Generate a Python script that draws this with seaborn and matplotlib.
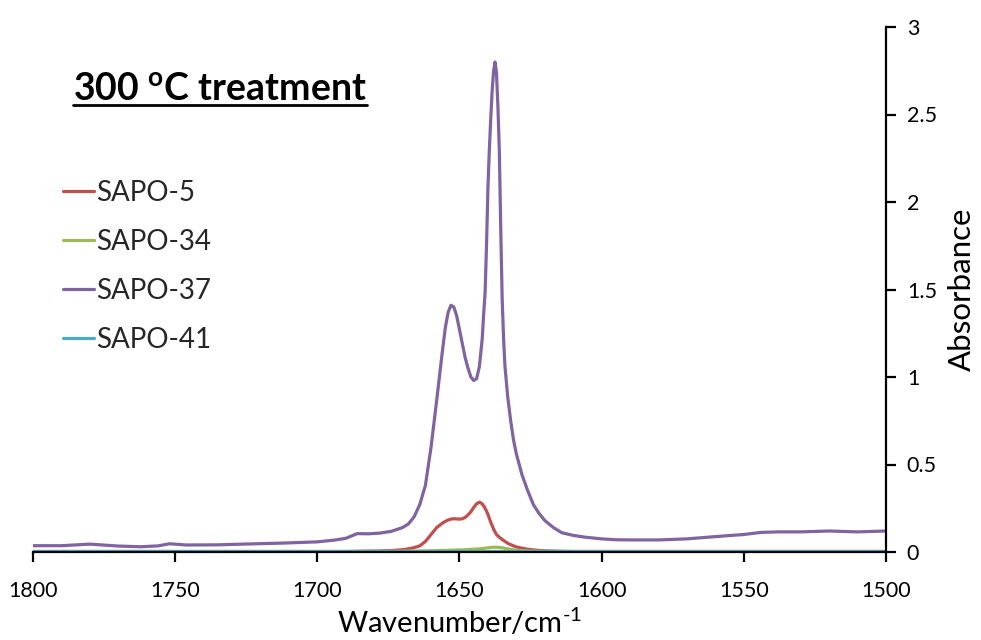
import numpy as np
import pandas as pd
import matplotlib
matplotlib.use("Agg")
import matplotlib.pyplot as plt
from matplotlib.lines import Line2D
import seaborn as sns

# ---------------- data ----------------
wavenumber = [
    1800, 1790, 1780, 1770, 1762, 1756, 1752, 1746, 1735, 1724,
    1712, 1700, 1694, 1690, 1686, 1682, 1678, 1674, 1670, 1668,
    1666, 1664, 1662, 1660, 1658, 1656, 1655, 1654, 1653, 1652,
    1651, 1650, 1649, 1648, 1647, 1646, 1645, 1644, 1643, 1642,
    1641.5, 1641, 1640.5, 1640, 1639.5, 1639, 1638.5, 1638, 1637.5, 1637,
    1636.5, 1636, 1635.5, 1635, 1634.5, 1634, 1633, 1632, 1631, 1630,
    1628, 1626, 1624, 1622, 1620, 1617, 1614, 1610, 1606, 1600,
    1595, 1590, 1580, 1570, 1560, 1550, 1544, 1538, 1530, 1520,
    1510, 1500,
]

sapo5 = [
    0.003, 0.003, 0.003, 0.003, 0.003, 0.003, 0.003, 0.003, 0.003, 0.003,
    0.003, 0.003, 0.003, 0.003, 0.004, 0.005, 0.006, 0.008, 0.013, 0.018,
    0.025, 0.035, 0.060, 0.100, 0.140, 0.165, 0.175, 0.183, 0.188, 0.190,
    0.189, 0.188, 0.190, 0.198, 0.212, 0.230, 0.255, 0.275, 0.285, 0.275,
    0.263, 0.250, 0.233, 0.215, 0.192, 0.170, 0.150, 0.130, 0.115, 0.100,
    0.092, 0.085, 0.078, 0.072, 0.066, 0.060, 0.050, 0.042, 0.035, 0.029,
    0.022, 0.016, 0.012, 0.009, 0.007, 0.005, 0.004, 0.003, 0.003, 0.003,
    0.003, 0.003, 0.003, 0.003, 0.003, 0.003, 0.003, 0.003, 0.003, 0.003,
    0.003, 0.003,
]

sapo34 = [
    0.002, 0.002, 0.002, 0.002, 0.002, 0.002, 0.002, 0.002, 0.002, 0.002,
    0.002, 0.002, 0.002, 0.002, 0.003, 0.003, 0.003, 0.004, 0.004, 0.005,
    0.005, 0.006, 0.006, 0.007, 0.008, 0.009, 0.009, 0.010, 0.010, 0.011,
    0.011, 0.012, 0.012, 0.013, 0.014, 0.015, 0.016, 0.017, 0.018, 0.020,
    0.021, 0.022, 0.023, 0.024, 0.025, 0.026, 0.027, 0.027, 0.027, 0.027,
    0.027, 0.026, 0.025, 0.024, 0.023, 0.021, 0.018, 0.015, 0.012, 0.010,
    0.008, 0.006, 0.005, 0.004, 0.004, 0.003, 0.003, 0.002, 0.002, 0.002,
    0.002, 0.002, 0.002, 0.002, 0.002, 0.002, 0.002, 0.002, 0.002, 0.002,
    0.002, 0.002,
]

sapo37 = [
    0.036, 0.036, 0.045, 0.034, 0.030, 0.035, 0.047, 0.040, 0.041, 0.046,
    0.051, 0.058, 0.068, 0.078, 0.105, 0.104, 0.108, 0.118, 0.140, 0.160,
    0.200, 0.270, 0.380, 0.600, 0.870, 1.150, 1.280, 1.370, 1.410, 1.400,
    1.350, 1.270, 1.190, 1.110, 1.050, 1.000, 0.980, 0.990, 1.060, 1.220,
    1.360, 1.480, 1.750, 2.080, 2.300, 2.480, 2.640, 2.750, 2.800, 2.740,
    2.550, 2.300, 1.850, 1.450, 1.220, 1.060, 0.880, 0.750, 0.640, 0.560,
    0.440, 0.350, 0.270, 0.220, 0.180, 0.140, 0.110, 0.095, 0.085, 0.075,
    0.070, 0.069, 0.069, 0.075, 0.088, 0.100, 0.112, 0.115, 0.115, 0.120,
    0.115, 0.120,
]

sapo41 = [
    0.003, 0.003, 0.003, 0.003, 0.003, 0.003, 0.003, 0.003, 0.003, 0.003,
    0.003, 0.003, 0.003, 0.003, 0.003, 0.003, 0.003, 0.003, 0.003, 0.003,
    0.003, 0.003, 0.003, 0.003, 0.003, 0.003, 0.003, 0.003, 0.003, 0.003,
    0.003, 0.003, 0.003, 0.003, 0.003, 0.003, 0.003, 0.003, 0.003, 0.003,
    0.003, 0.003, 0.003, 0.003, 0.003, 0.003, 0.003, 0.003, 0.003, 0.003,
    0.003, 0.003, 0.003, 0.003, 0.003, 0.003, 0.003, 0.003, 0.003, 0.003,
    0.003, 0.003, 0.003, 0.003, 0.003, 0.003, 0.003, 0.003, 0.003, 0.003,
    0.003, 0.003, 0.003, 0.003, 0.003, 0.003, 0.003, 0.003, 0.003, 0.003,
    0.003, 0.003,
]

series_names = ["SAPO-5", "SAPO-34", "SAPO-37", "SAPO-41"]
series_colors = ["#C0504D", "#9BBB59", "#8064A2", "#4BACC6"]
x_ticks = [1800, 1750, 1700, 1650, 1600, 1550, 1500]
y_ticks = [0, 0.5, 1, 1.5, 2, 2.5, 3]
y_tick_labels = ["0", "0.5", "1", "1.5", "2", "2.5", "3"]

# ---------------- build table ----------------
frames = []
for name, vals in zip(series_names, [sapo5, sapo34, sapo37, sapo41]):
    assert len(vals) == len(wavenumber)
    frames.append(pd.DataFrame({"wavenumber": wavenumber,
                                "absorbance": vals,
                                "sample": name}))
df = pd.concat(frames, ignore_index=True)

# ---------------- style ----------------
sns.set_theme(style="white")
plt.rcParams["font.family"] = ["Lato", "DejaVu Sans"]
plt.rcParams["mathtext.fontset"] = "custom"
plt.rcParams["mathtext.rm"] = "Lato"
plt.rcParams["mathtext.it"] = "Lato:italic"
plt.rcParams["mathtext.bf"] = "Lato:bold"

W, H = 981, 640
fig = plt.figure(figsize=(W / 100, H / 100), dpi=100)
ax = fig.add_axes([33 / W, 1 - 552 / H, (886 - 33) / W, (552 - 27) / H])

sns.lineplot(data=df, x="wavenumber", y="absorbance", hue="sample",
             hue_order=series_names, palette=dict(zip(series_names, series_colors)),
             linewidth=2.3, ax=ax, legend=True)

ax.set_xlim(1800, 1500)
ax.set_ylim(0, 3)
ax.set_xticks(x_ticks)
ax.set_xticklabels([str(t) for t in x_ticks])
ax.set_yticks(y_ticks)
ax.set_yticklabels(y_tick_labels)

ax.yaxis.tick_right()
ax.yaxis.set_label_position("right")
for s in ["left", "top"]:
    ax.spines[s].set_visible(False)
for s in ["right", "bottom"]:
    ax.spines[s].set_visible(True)
    ax.spines[s].set_color("black")
    ax.spines[s].set_linewidth(1.6)

ax.tick_params(axis="x", direction="out", length=7, width=1.6, colors="black",
               labelsize=15.5, pad=14, bottom=True)
ax.tick_params(axis="y", direction="out", length=7, width=1.6, colors="black",
               labelsize=15.5, pad=8, right=True, left=False)

ax.set_xlabel("Wavenumber/cm$^{\\text{-1}}$", fontsize=21, color="black", labelpad=4)
ax.set_ylabel("Absorbance", fontsize=22.5, color="black", labelpad=8)

handles, labels = ax.get_legend_handles_labels()
leg = ax.legend(handles, labels, loc="upper left",
                bbox_to_anchor=(63 / W, 1 - 180 / H), bbox_transform=fig.transFigure,
                frameon=False, fontsize=20, handlelength=1.1, handletextpad=0.1,
                labelspacing=0.83, borderpad=0, borderaxespad=0)
for lh in leg.get_lines():
    lh.set_linewidth(2.3)

title = fig.text(73 / W, 1 - 100 / H, "300 $^{\\mathbf{o}}$C treatment",
                 fontsize=27, fontweight="bold", color="black",
                 ha="left", va="baseline")

fig.canvas.draw()
bb = title.get_window_extent(fig.canvas.get_renderer())
uy = 1 - 105 / H
fig.add_artist(Line2D([bb.x0 / W, bb.x1 / W], [uy, uy], transform=fig.transFigure,
                      color="black", linewidth=2.0))

fig.savefig("out.png", dpi=100)
